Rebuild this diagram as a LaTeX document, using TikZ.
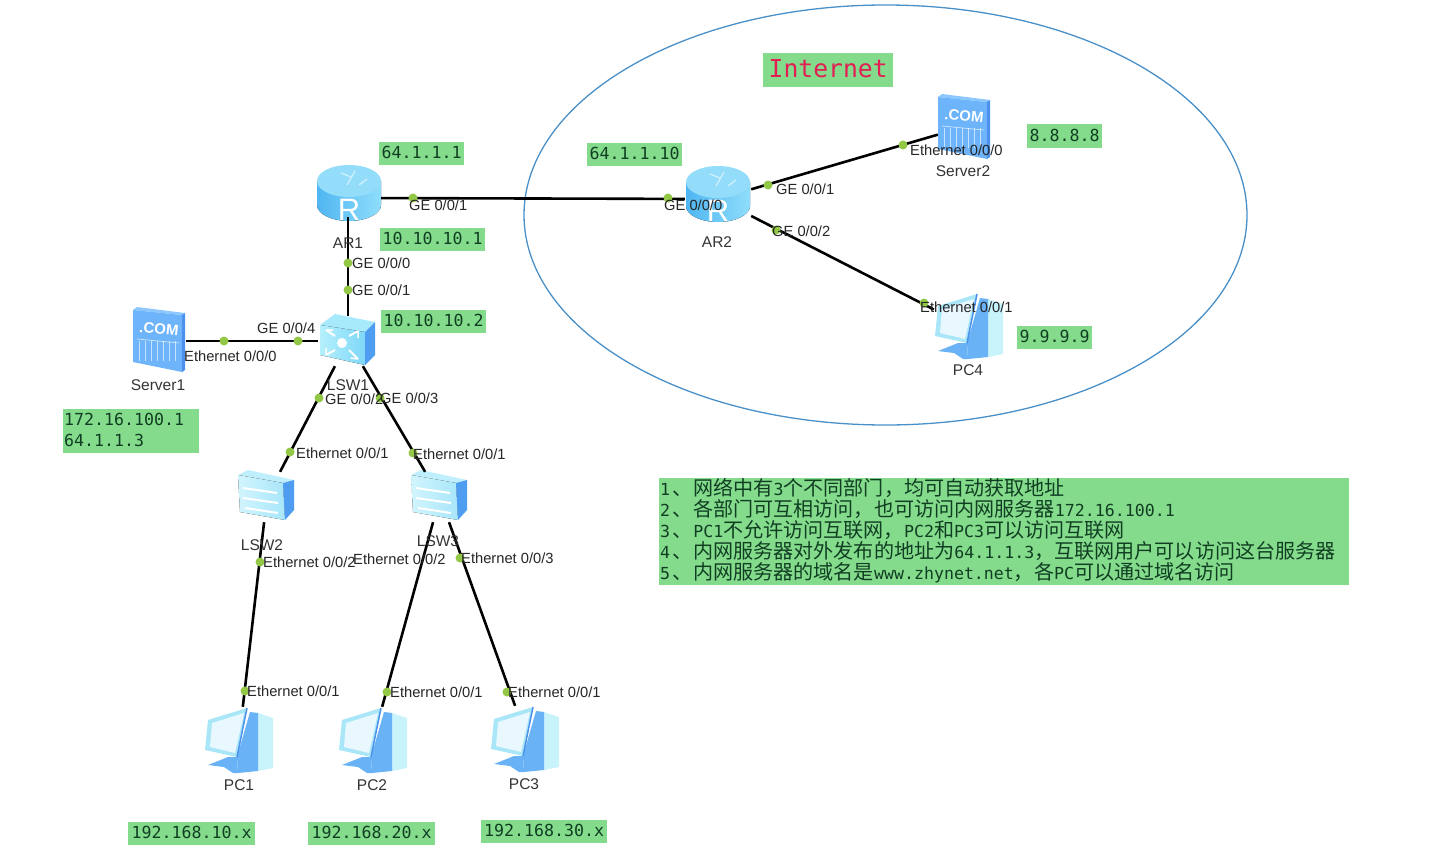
\documentclass[tikz,border=0pt]{standalone}
\usepackage{fontspec}
\setmainfont{Liberation Sans}
\newfontfamily\cjkfont[Scale=1.21]{Noto Sans CJK SC}
\newfontfamily\addrfont{DejaVu Sans Mono}
\usetikzlibrary{positioning}
\usepackage{xcolor}

\definecolor{boxgreen}{RGB}{132,219,140}
\definecolor{boxtext}{RGB}{16,62,34}
\definecolor{portgreen}{RGB}{146,200,70}
\definecolor{cloudblue}{RGB}{74,144,200}
\definecolor{netred}{RGB}{226,30,84}
\definecolor{rtrtop}{HTML}{93DDFA}
\definecolor{rtrleft}{HTML}{4FB6F2}
\definecolor{rtrright}{HTML}{8FDDFB}
\definecolor{swtop}{HTML}{A6EAFB}
\definecolor{swleft}{HTML}{B5F0FC}
\definecolor{swright}{HTML}{7ED8F8}
\definecolor{swside}{HTML}{4F9DF0}
\definecolor{ltop}{HTML}{BFEFFC}
\definecolor{lleft}{HTML}{D2F5FD}
\definecolor{lright}{HTML}{A8E6FA}
\definecolor{srvtop}{HTML}{8CC8FF}
\definecolor{srvfront}{HTML}{6DB4FA}
\definecolor{srvside}{HTML}{4C92EC}
\definecolor{pcframe}{HTML}{A8E6F8}
\definecolor{pcscreen}{HTML}{E8F8FE}
\definecolor{pcblue}{HTML}{69B2F5}
\definecolor{pcside}{HTML}{C8F3FB}

\newcommand{\cn}[1]{{\cjkfont #1}}
\newcommand{\dun}{\kern2pt\cn{、}\kern1pt}

\tikzset{
  link/.style={black, line width=2.6pt},
  portdot/.style={circle, fill=portgreen, inner sep=0pt, minimum size=9pt},
  portlabel/.style={anchor=west, inner sep=0pt, text=black!85, font=\fontsize{14.7}{16}\selectfont},
  devlabel/.style={inner sep=0pt, text=black!80, font=\fontsize{15.5}{18}\selectfont},
  addrbox/.style={anchor=west, fill=boxgreen, text=boxtext, inner xsep=1pt, inner ysep=0pt,
    minimum height=23pt, align=left, text depth=2pt, font=\addrfont\fontsize{16.6}{21}\selectfont},
  router/.style={inner sep=0pt, minimum width=66pt, minimum height=38pt},
  switchbox/.style={inner sep=0pt, minimum width=60pt, minimum height=50pt},
  serverbox/.style={inner sep=0pt, minimum width=52pt, minimum height=60pt},
  pcbox/.style={inner sep=0pt, minimum width=68pt, minimum height=66pt},
  routericon/.pic={
    \fill[left color=rtrleft, right color=rtrright] (-32,-12)--(-32,12) arc[start angle=180, end angle=0, x radius=32, y radius=16]--(32,-12)--cycle;
    \fill[rtrtop] (0,-12) ellipse [x radius=32, y radius=16];
    \draw[white, opacity=0.6, line width=1.2pt] (-8,-20)--(2,-16) (6,-22)--(-2,-8) (10,-8)--(18,-14);
    \node[text=white, inner sep=0pt, font=\fontsize{31}{31}\selectfont] (-letter) at (0,17) {R};
  },
  l3switchicon/.pic={
    \fill[swtop] (-27,-15)--(-12,-26)--(28,-18)--(18,-8)--cycle;
    \fill[left color=swleft, right color=swright] (-27,-15)--(18,-8)--(18,25)--(-27,15)--cycle;
    \fill[swside] (18,-8)--(28,-18)--(28,15)--(18,25)--cycle;
    \fill[white] (-5,3) circle [radius=5];
    \draw[white, line width=2pt] (-12,-4)--(-21,-10) (2,-4)--(11,-9) (-12,10)--(-21,15) (2,10)--(11,19);
    \draw[white, line width=1.5pt] (-21,-10)--(-14,-10) (11,-9)--(11,-2) (-21,15)--(-21,8) (11,19)--(4,18);
  },
  l2switchicon/.pic={
    \fill[ltop] (-28,-22)--(-18,-27)--(28,-17)--(17,-14)--cycle;
    \fill[left color=lleft, right color=lright] (-28,-22)--(17,-14)--(19,23)--(-26,15)--cycle;
    \fill[swside] (17,-14)--(28,-17)--(28,13)--(19,23)--cycle;
    \draw[white, line width=2pt] (-23,-9)--(11,-4) (-23,1)--(12,6) (-21,11)--(12,16);
  },
  servericon/.pic={
    \fill[srvtop] (-26,-30)--(-22,-33)--(26,-27)--(23,-25)--cycle;
    \fill[srvfront] (-26,-30)--(23,-25)--(23,32)--(-26,22)--cycle;
    \fill[srvside] (23,-25)--(26,-27)--(26,30)--(23,32)--cycle;
    \node[text=white, inner sep=0pt, rotate=-6, font=\bfseries\fontsize{15}{15}\selectfont] (-letter) at (0,-11) {.COM};
    \draw[white, opacity=0.6, line width=0.8pt] (-22,-1)--(20,3);
    \foreach \x in {-20,-14,...,16} {
      \draw[white, opacity=0.6, line width=1pt] (\x,1)--(\x,21);
    }
  },
  pcicon/.pic={
    % tower
    \fill[pcside] (20,-27)--(35,-22)--(35,28)--(20,31)--cycle;
    \fill[pcblue] (12,-28)--(20,-27)--(20,31)--(0,33)--(-1,17)--cycle;
    % stand
    \fill[pcblue] (-30,25)--(-10,17)--(-1,17)--(0,33)--(-5,33)--(-14,27)--cycle;
    % monitor
    \fill[pcframe] (-30,-20)--(9,-32)--(-1,17)--(-33,10)--cycle;
    \fill[pcscreen] (-26,-17)--(6,-27)--(-3,13)--(-28,7)--cycle;
    \draw[srvside, line width=1.5pt] (9,-32)--(-1,17);
  },
}

\begin{document}
\begin{tikzpicture}[x=1pt, y=-1pt]

\useasboundingbox (0,0) rectangle (1450,864);

\draw[cloudblue, line width=1.3pt] (885.5,215) ellipse [x radius=361.5, y radius=210];

% devices
\pic at (349,193) {routericon};
\pic at (718,194) {routericon};
\pic at (347,340) {l3switchicon};
\pic at (266,497) {l2switchicon};
\pic at (439,497) {l2switchicon};
\pic at (159,340) {servericon};
\pic at (964,127) {servericon};
\pic at (238,740) {pcicon};
\pic at (372,740) {pcicon};
\pic at (524,739) {pcicon};
\pic at (968,326) {pcicon};

\node[router] (AR1) at (348,198) {};
\node[router] (AR2) at (718,199) {};
\node[switchbox] (LSW1) at (348,341) {};
\node[switchbox] (LSW2) at (267,497) {};
\node[switchbox] (LSW3) at (440,497) {};
\node[serverbox] (Server1) at (160,341) {};
\node[serverbox] (Server2) at (964,127) {};
\node[pcbox] (PC1) at (239,740) {};
\node[pcbox] (PC2) at (373,740) {};
\node[pcbox] (PC3) at (527,739) {};
\node[pcbox] (PC4) at (968,327) {};

% links
\draw[link] (AR1)--(AR2);
\draw[link] (AR1)--(LSW1);
\draw[link] (Server1)--(LSW1);
\draw[link] (LSW1)--(LSW2);
\draw[link] (LSW1)--(LSW3);
\draw[link] (LSW2)--(PC1);
\draw[link] (LSW3)--(PC2);
\draw[link] (LSW3)--(PC3);
\draw[link] (AR2)--(Server2);
\draw[link] (AR2)--(PC4);

% port dots
\node[portdot] (d1) at (413,198) {};
\node[portdot] (d2) at (668,198) {};
\node[portdot] (d3) at (348,263) {};
\node[portdot] (d4) at (348,290) {};
\node[portdot] (d5) at (224,341) {};
\node[portdot] (d6) at (298,341) {};
\node[portdot] (d7) at (319,398) {};
\node[portdot] (d8) at (380,398) {};
\node[portdot] (d9) at (290,452) {};
\node[portdot] (d10) at (413,453) {};
\node[portdot] (d11) at (260,562) {};
\node[portdot] (d12) at (460,558) {};
\node[portdot] (d13) at (245,691) {};
\node[portdot] (d14) at (387,692) {};
\node[portdot] (d15) at (507,692) {};
\node[portdot] (d16) at (768,185) {};
\node[portdot] (d17) at (776,230) {};
\node[portdot] (d18) at (903,145) {};
\node[portdot] (d19) at (924,303) {};

% port labels
\node[portlabel] (l1) at (409,205) {GE 0/0/1};
\node[portlabel] (l2) at (664,205) {GE 0/0/0};
\node[portlabel] (l3) at (352,263) {GE 0/0/0};
\node[portlabel] (l4) at (352,290) {GE 0/0/1};
\node[portlabel] (l5) at (184,356) {Ethernet 0/0/0};
\node[portlabel] (l6) at (257,328) {GE 0/0/4};
\node[portlabel] (l7) at (325,399) {GE 0/0/2};
\node[portlabel] (l8) at (380,398) {GE 0/0/3};
\node[portlabel] (l9) at (296,453) {Ethernet 0/0/1};
\node[portlabel] (l10) at (413,454) {Ethernet 0/0/1};
\node[portlabel] (l11) at (263,562) {Ethernet 0/0/2};
\node[portlabel] (l12) at (353,559) {Ethernet 0/0/2};
\node[portlabel] (l13) at (461,558) {Ethernet 0/0/3};
\node[portlabel] (l14) at (247,691) {Ethernet 0/0/1};
\node[portlabel] (l15) at (390,692) {Ethernet 0/0/1};
\node[portlabel] (l16) at (508,692) {Ethernet 0/0/1};
\node[portlabel] (l17) at (776,189) {GE 0/0/1};
\node[portlabel] (l18) at (772,231) {GE 0/0/2};
\node[portlabel] (l19) at (910,150) {Ethernet 0/0/0};
\node[portlabel] (l20) at (920,307) {Ethernet 0/0/1};

% device names
\node[devlabel] (n1) at (348,243) {AR1};
\node[devlabel] (n2) at (717,242) {AR2};
\node[devlabel] (n3) at (348,385) {LSW1};
\node[devlabel] (n4) at (262,545) {LSW2};
\node[devlabel] (n5) at (438,541) {LSW3};
\node[devlabel] (n6) at (158,385) {Server1};
\node[devlabel] (n7) at (963,171) {Server2};
\node[devlabel] (n8) at (239,785) {PC1};
\node[devlabel] (n9) at (372,785) {PC2};
\node[devlabel] (n10) at (524,784) {PC3};
\node[devlabel] (n11) at (968,370) {PC4};

% addresses
\node[addrbox, minimum width=85pt] (a1) at (379,153) {64.1.1.1};
\node[addrbox, minimum width=105pt] (a2) at (380,239) {10.10.10.1};
\node[addrbox, minimum width=105pt] (a3) at (381,321) {10.10.10.2};
\node[addrbox, text width=134pt, minimum height=44pt, text depth=23pt] (a4) at (63,431) {172.16.100.1\\64.1.1.3};
\node[addrbox, minimum width=95pt] (a5) at (587,154) {64.1.1.10};
\node[addrbox, minimum width=75pt] (a6) at (1027,136) {8.8.8.8};
\node[addrbox, minimum width=75pt] (a7) at (1017,337) {9.9.9.9};
\node[addrbox, minimum width=127pt] (a8) at (128,833) {192.168.10.x};
\node[addrbox, minimum width=127pt] (a9) at (308,833) {192.168.20.x};
\node[addrbox, minimum width=126pt] (a10) at (481,831) {192.168.30.x};

\node[addrbox, minimum width=130pt, minimum height=34pt, align=center, text=netred, text depth=4pt,
  font=\addrfont\fontsize{24.7}{28}\selectfont] (cloudname) at (763,70) {Internet};

\node[addrbox, text width=688pt, minimum height=107pt, text depth=89pt] (notes) at (659,531.5) {%
1\dun\cn{网络中有}3\cn{个不同部门，均可自动获取地址}\\
2\dun\cn{各部门可互相访问，也可访问内网服务器}172.16.100.1\\
3\dun PC1\cn{不允许访问互联网，}PC2\cn{和}PC3\cn{可以访问互联网}\\
4\dun\cn{内网服务器对外发布的地址为}64.1.1.3\cn{，互联网用户可以访问这台服务器}\\
5\dun\cn{内网服务器的域名是}www.zhynet.net\cn{，各}PC\cn{可以通过域名访问}};

\end{tikzpicture}
\end{document}
